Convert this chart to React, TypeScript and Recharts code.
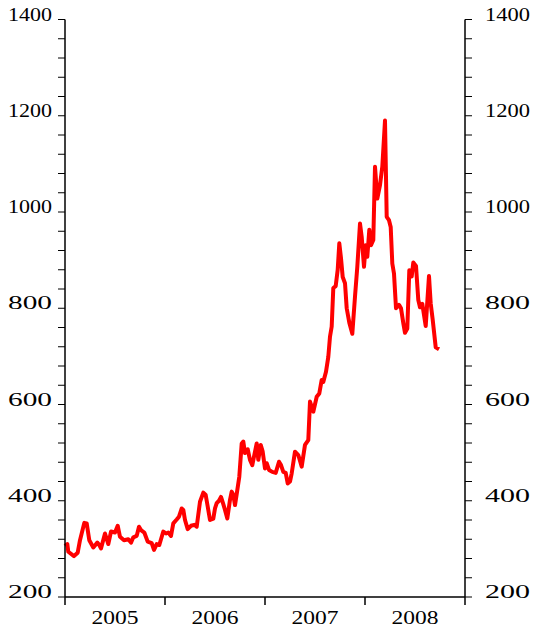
import { LineChart, Line, XAxis, YAxis } from 'recharts'

// decimal years (weekly-ish readings) and the matching price level
const dates = [
  2005.0, 2005.023, 2005.033, 2005.09, 2005.127, 2005.15, 2005.193, 2005.217, 2005.243, 2005.283,
  2005.323, 2005.343, 2005.36, 2005.4, 2005.433, 2005.46, 2005.5, 2005.527, 2005.55, 2005.59,
  2005.633, 2005.66, 2005.683, 2005.717, 2005.74, 2005.76, 2005.793, 2005.827, 2005.867, 2005.89,
  2005.917, 2005.943, 2005.983, 2006.01, 2006.033, 2006.06, 2006.083, 2006.117, 2006.14, 2006.167,
  2006.183, 2006.2, 2006.227, 2006.26, 2006.293, 2006.317, 2006.35, 2006.383, 2006.407, 2006.427,
  2006.45, 2006.483, 2006.5, 2006.517, 2006.54, 2006.56, 2006.583, 2006.6, 2006.623, 2006.65,
  2006.667, 2006.683, 2006.7, 2006.723, 2006.743, 2006.767, 2006.783, 2006.8, 2006.827, 2006.85,
  2006.873, 2006.893, 2006.917, 2006.933, 2006.957, 2006.977, 2007.0, 2007.017, 2007.04, 2007.073,
  2007.107, 2007.14, 2007.16, 2007.183, 2007.207, 2007.227, 2007.25, 2007.267, 2007.3, 2007.333,
  2007.367, 2007.4, 2007.433, 2007.45, 2007.483, 2007.517, 2007.543, 2007.567, 2007.583, 2007.61,
  2007.633, 2007.65, 2007.667, 2007.683, 2007.707, 2007.727, 2007.743, 2007.76, 2007.777, 2007.8,
  2007.817, 2007.843, 2007.873, 2007.9, 2007.923, 2007.95, 2007.967, 2007.99, 2008.007, 2008.023,
  2008.043, 2008.06, 2008.083, 2008.1, 2008.123, 2008.15, 2008.173, 2008.2, 2008.217, 2008.24,
  2008.257, 2008.273, 2008.29, 2008.31, 2008.34, 2008.36, 2008.383, 2008.4, 2008.423, 2008.443,
  2008.467, 2008.483, 2008.51, 2008.533, 2008.55, 2008.573, 2008.607, 2008.64, 2008.657, 2008.677,
  2008.707, 2008.74,
]

const prices = [
  306, 310, 294, 285, 292, 318, 354, 353, 318, 303,
  313, 308, 301, 332, 310, 336, 334, 348, 325, 318,
  320, 313, 324, 327, 346, 339, 334, 315, 312, 298,
  310, 308, 336, 332, 334, 327, 353, 361, 367, 384,
  381, 360, 341, 348, 350, 346, 398, 417, 412, 388,
  360, 363, 384, 395, 400, 408, 393, 381, 363, 402,
  419, 412, 391, 422, 450, 519, 523, 499, 507, 485,
  474, 495, 519, 485, 516, 502, 467, 478, 464, 460,
  458, 481, 474, 460, 458, 436, 440, 457, 502, 495,
  471, 516, 526, 606, 585, 616, 623, 651, 647, 668,
  699, 741, 762, 842, 846, 880, 935, 904, 865, 852,
  800, 770, 747, 824, 886, 976, 948, 886, 931, 907,
  963, 931, 942, 1094, 1028, 1056, 1094, 1190, 990, 983,
  969, 893, 872, 800, 807, 800, 769, 749, 758, 879,
  866, 895, 888, 817, 802, 809, 763, 867, 810, 776,
  719, 715,
]

const yearTicks = [2005, 2006, 2007, 2008, 2009]
const valueTicks = [
  200, 240, 280, 320, 360, 400, 440, 480, 520, 560, 600, 640, 680, 720, 760, 800, 840, 880, 920, 960,
  1000, 1040, 1080, 1120, 1160, 1200, 1240, 1280, 1320, 1360, 1400,
]

const data = dates.map((t, i) => ({ t, price: prices[i] }))

const font = "'Liberation Serif', 'Times New Roman', serif"

function LeftTick({ x, y, payload }: any) {
  if (payload.value % 200 !== 0) return <g />
  return (
    <text x={x} y={y + 1} textAnchor="end" style={{ fontFamily: font }} fontSize={18} fill="#000"
      textLength={44} lengthAdjust="spacingAndGlyphs">
      {payload.value}
    </text>
  )
}

function RightTick({ x, y, payload }: any) {
  if (payload.value % 200 !== 0) return <g />
  return (
    <text x={x} y={y + 1} textAnchor="start" style={{ fontFamily: font }} fontSize={18} fill="#000"
      textLength={45} lengthAdjust="spacingAndGlyphs">
      {payload.value}
    </text>
  )
}

function YearTick({ x, y, payload }: any) {
  if (payload.value >= 2009) return <g />
  return (
    <text x={x + 50} y={y + 17} textAnchor="middle" style={{ fontFamily: font }} fontSize={18} fill="#000"
      textLength={47} lengthAdjust="spacingAndGlyphs">
      {payload.value}
    </text>
  )
}

export default function App() {
  return (
    <div style={{ position: 'absolute', left: 0, top: 0, background: '#fff' }}>
      <LineChart width={533} height={634} data={data} margin={{ top: 19.5, right: 0, left: 0, bottom: 0 }}>
        <XAxis
          dataKey="t"
          type="number"
          domain={[2005, 2009]}
          ticks={yearTicks}
          height={37}
          tickSize={8}
          tickMargin={2}
          axisLine={{ stroke: '#000', strokeWidth: 1.5 }}
          tickLine={{ stroke: '#000', strokeWidth: 1.5 }}
          tick={<YearTick />}
          interval={0}
        />
        <YAxis
          yAxisId="left"
          orientation="left"
          domain={[200, 1400]}
          ticks={valueTicks}
          width={65}
          tickSize={7}
          tickMargin={6}
          axisLine={{ stroke: '#000', strokeWidth: 1.5 }}
          tickLine={{ stroke: '#000', strokeWidth: 1 }}
          tick={<LeftTick />}
          interval={0}
          allowDataOverflow
        />
        <YAxis
          yAxisId="right"
          orientation="right"
          domain={[200, 1400]}
          ticks={valueTicks}
          width={68}
          tickSize={7}
          tickMargin={13}
          axisLine={{ stroke: '#000', strokeWidth: 1.5 }}
          tickLine={{ stroke: '#000', strokeWidth: 1 }}
          tick={<RightTick />}
          interval={0}
          allowDataOverflow
        />
        <Line
          yAxisId="left"
          type="linear"
          dataKey="price"
          stroke="#ff0000"
          strokeWidth={4}
          dot={false}
          strokeLinejoin="round"
          isAnimationActive={false}
        />
      </LineChart>
    </div>
  )
}
